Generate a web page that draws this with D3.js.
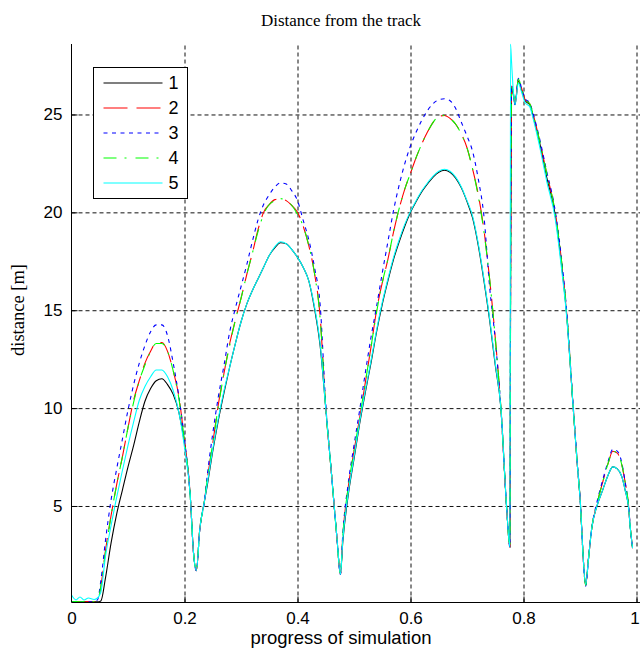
<!DOCTYPE html>
<html>
<head>
<meta charset="utf-8">
<script src="https://cdn.jsdelivr.net/npm/d3@7"></script>
<style>
  body { margin: 0; background: #fff; }
  #wrapper { position: relative; width: 640px; height: 649px; }
  .sans { font-family: "Liberation Sans", Arial, sans-serif; }
  .serif { font-family: "Liberation Serif", "Times New Roman", serif; }
</style>
</head>
<body>
<div id="wrapper"></div>
<script>
// progress of simulation (shared x samples)
const progress = [
  0, 0.008, 0.015, 0.022, 0.03, 0.04, 0.046, 0.052, 0.06, 0.07, 0.08, 0.09, 0.10, 0.11, 0.12, 0.13, 0.14, 0.15, 0.16, 0.17, 0.18, 0.19, 0.20, 0.21, 0.216, 0.221, 0.227, 0.235,
  0.24, 0.25, 0.26, 0.27, 0.28, 0.29, 0.30, 0.31, 0.32, 0.33, 0.34, 0.35, 0.36, 0.37, 0.38, 0.39, 0.40, 0.41, 0.42, 0.43, 0.44, 0.45, 0.46, 0.47, 0.476,
  0.48, 0.49, 0.50, 0.51, 0.52, 0.53, 0.54, 0.55, 0.56, 0.57, 0.58, 0.59, 0.60, 0.61, 0.62, 0.63, 0.64, 0.65, 0.66, 0.67, 0.68, 0.69, 0.70, 0.71, 0.72, 0.73, 0.74, 0.75, 0.76, 0.77, 0.776,
  0.777, 0.779, 0.782, 0.785, 0.791, 0.797, 0.803, 0.811, 0.817, 0.829, 0.841, 0.856, 0.867, 0.876, 0.888, 0.895, 0.901, 0.905, 0.910, 0.915, 0.921, 0.930, 0.940, 0.950, 0.958, 0.966, 0.974, 0.980, 0.986, 0.989, 0.993
];

// distance [m] per run
const dist1 = [
  0.12, 0.12, 0.1, 0.12, 0.1, 0.12, 0.1, 0.15, 1.3, 3.1, 4.6, 5.8, 7.0, 8.1, 9.3, 10.35, 11.0, 11.4, 11.5, 11.2, 10.7, 9.8, 8.2, 5.6, 2.6, 1.7, 3.8, 5.2,
  6.0, 7.8, 9.4, 10.8, 12.1, 13.3, 14.4, 15.3, 16.0, 16.6, 17.2, 17.8, 18.2, 18.45, 18.4, 18.1, 17.7, 17.2, 16.5, 15.1, 13.2, 10.0, 6.7, 3.3, 1.5,
  3.1, 5.6, 7.4, 9.2, 10.8, 12.3, 13.9, 15.3, 16.5, 17.6, 18.5, 19.3, 20.0, 20.55, 21.05, 21.45, 21.8, 22.05, 22.15, 22.05, 21.75, 21.25, 20.55, 19.7, 18.3, 16.5, 14.5, 12.2, 10.0, 5.0, 2.9,
  14.6, 26.4, 26.0, 25.5, 26.7, 26.2, 25.7, 25.5, 24.9, 23.5, 21.8, 19.9, 17.4, 14.9, 10.0, 7.2, 5.0, 2.7, 1.0, 2.3, 3.9, 5.0, 5.8, 6.6, 7.0, 6.9, 6.5, 5.8, 4.9, 3.9, 2.85
];
const dist2 = [
  0.12, 0.1, 0.12, 0.1, 0.12, 0.1, 0.15, 0.9, 2.7, 4.5, 6.1, 7.5, 9.0, 10.4, 11.4, 12.3, 12.9, 13.35, 13.35, 12.9, 11.9, 10.6, 8.3, 5.6, 2.6, 1.7, 3.8, 5.2,
  6.3, 8.2, 10.2, 11.8, 13.3, 14.5, 15.6, 16.8, 17.9, 19.1, 20.0, 20.4, 20.65, 20.7, 20.6, 20.35, 20.0, 19.3, 18.3, 16.9, 14.7, 10.0, 6.7, 3.3, 1.5,
  3.4, 6.0, 7.8, 9.5, 11.3, 13.1, 15.0, 16.4, 17.6, 19.0, 20.2, 21.2, 22.0, 22.8, 23.5, 24.1, 24.6, 24.9, 24.95, 24.8, 24.5, 24.0, 23.3, 22.2, 20.9, 19.1, 16.6, 13.6, 10.0, 5.0, 2.9,
  14.6, 26.45, 26.1, 25.6, 26.8, 26.3, 25.75, 25.55, 25.0, 23.6, 22.0, 20.0, 17.6, 15.0, 10.0, 7.2, 5.0, 2.7, 0.95, 2.3, 3.9, 5.1, 6.2, 7.2, 7.8, 7.7, 7.1, 6.2, 5.0, 3.9, 2.85
];
const dist3 = [
  0.1, 0.12, 0.1, 0.12, 0.1, 0.12, 0.2, 1.2, 3.2, 5.3, 6.9, 8.4, 9.9, 11.2, 12.3, 13.2, 13.9, 14.25, 14.25, 13.7, 12.3, 10.6, 8.4, 5.6, 2.6, 1.7, 3.8, 5.2,
  6.5, 8.7, 10.6, 12.2, 13.9, 15.1, 16.2, 17.3, 18.5, 19.6, 20.4, 20.9, 21.3, 21.5, 21.45, 21.1, 20.6, 19.6, 18.6, 17.2, 15.3, 10.2, 6.7, 3.3, 1.5,
  3.5, 6.2, 8.1, 9.9, 11.8, 13.6, 15.2, 16.9, 18.5, 20.1, 21.4, 22.5, 23.4, 24.1, 24.7, 25.2, 25.55, 25.75, 25.8, 25.7, 25.3, 24.6, 23.9, 23.1, 21.7, 19.8, 16.2, 13.5, 10.0, 5.0, 2.9,
  14.6, 26.5, 26.1, 25.5, 26.85, 26.3, 25.8, 25.6, 25.05, 23.7, 22.1, 20.1, 17.7, 15.1, 10.1, 7.3, 5.0, 2.7, 0.9, 2.3, 3.9, 5.2, 6.3, 7.3, 7.9, 7.8, 7.2, 6.2, 5.0, 3.9, 2.85
];
const dist4 = [
  0.1, 0.12, 0.1, 0.12, 0.1, 0.12, 0.15, 0.9, 2.6, 4.5, 6.1, 7.5, 9.0, 10.3, 11.4, 12.2, 12.9, 13.3, 13.3, 12.9, 11.9, 10.5, 8.3, 5.6, 2.6, 1.7, 3.8, 5.2,
  6.3, 8.2, 10.1, 11.8, 13.2, 14.5, 15.6, 16.8, 17.9, 19.0, 19.9, 20.4, 20.6, 20.7, 20.6, 20.35, 19.9, 19.3, 18.3, 16.9, 14.6, 10.0, 6.7, 3.3, 1.5,
  3.4, 6.0, 7.8, 9.5, 11.3, 13.1, 14.9, 16.4, 17.6, 19.0, 20.2, 21.2, 22.0, 22.8, 23.5, 24.1, 24.6, 24.9, 24.95, 24.8, 24.5, 24.0, 23.3, 22.2, 20.8, 19.0, 16.6, 13.6, 10.0, 5.0, 2.9,
  14.6, 26.45, 26.1, 25.6, 26.8, 26.3, 25.75, 25.55, 25.0, 23.6, 22.0, 20.0, 17.6, 15.0, 10.0, 7.2, 5.0, 2.7, 0.95, 2.3, 3.9, 5.1, 6.2, 7.2, 7.8, 7.7, 7.1, 6.2, 5.0, 3.9, 2.85
];
const dist5 = [
  0.45, 0.2, 0.35, 0.2, 0.3, 0.22, 0.3, 0.6, 2.4, 4.0, 5.45, 6.8, 8.1, 9.3, 10.4, 11.1, 11.6, 11.95, 11.95, 11.6, 10.9, 9.8, 8.0, 5.6, 2.6, 1.7, 3.8, 5.2,
  6.1, 7.9, 9.5, 10.9, 12.1, 13.3, 14.4, 15.3, 16.0, 16.6, 17.2, 17.8, 18.25, 18.5, 18.4, 18.1, 17.7, 17.2, 16.5, 15.2, 13.3, 10.0, 6.7, 3.3, 1.5,
  3.2, 5.7, 7.5, 9.3, 10.9, 12.4, 14.0, 15.4, 16.6, 17.7, 18.6, 19.4, 20.05, 20.6, 21.1, 21.5, 21.85, 22.1, 22.2, 22.1, 21.8, 21.3, 20.6, 19.8, 18.4, 16.6, 14.6, 12.3, 10.0, 5.0, 2.9,
  28.6, 27.6, 26.2, 25.5, 26.6, 26.1, 25.6, 25.4, 24.8, 23.3, 21.6, 19.7, 17.2, 14.8, 10.0, 7.2, 5.0, 2.7, 1.0, 2.3, 3.9, 5.0, 5.8, 6.6, 7.0, 6.9, 6.5, 5.8, 4.9, 3.9, 2.85
];

const seriesNames = ["1", "2", "3", "4", "5"];
const xTicks = [0, 0.2, 0.4, 0.6, 0.8, 1];
const xTickLabels = ["0", "0.2", "0.4", "0.6", "0.8", "1"];
const yTicks = [5, 10, 15, 20, 25];
const yTickLabels = ["5", "10", "15", "20", "25"];

const runs = [dist1, dist2, dist3, dist4, dist5].map((vals, i) => ({
  name: seriesNames[i],
  points: progress.map((x, j) => ({ x: x, y: vals[j] })),
}));

// line styles, matlab-ish: '-', '--', ':', '-.', '-'
const styles = [
  { color: "#000000", dash: null },
  { color: "#ff0000", dash: "24,9" },
  { color: "#0000ff", dash: "4,4.5" },
  { color: "#00ff00", dash: "13,8,2,9" },
  { color: "#00ffff", dash: null },
];

const dimensions = {
  width: 640,
  height: 649,
  left: 71.5,
  right: 636.5,
  top: 44,
  bottom: 602.5,
  labelCenter: 341, // title / xlabel centre as in the source figure
};

const svg = d3
  .select("#wrapper")
  .append("svg")
  .attr("width", dimensions.width)
  .attr("height", dimensions.height);

const xScale = d3
  .scaleLinear()
  .domain([0, 1])
  .range([dimensions.left, dimensions.right]);
const yScale = d3
  .scaleLinear()
  .domain([0.07, 28.6])
  .range([dimensions.bottom, dimensions.top]);

const plotW = dimensions.right - dimensions.left;
const plotH = dimensions.bottom - dimensions.top;

// grid
const xGrid = svg
  .append("g")
  .attr("transform", `translate(0,${dimensions.bottom})`)
  .call(d3.axisBottom(xScale).tickValues(xTicks.slice(1)).tickSize(-plotH).tickFormat(""));
const yGrid = svg
  .append("g")
  .attr("transform", `translate(${dimensions.left},0)`)
  .call(d3.axisLeft(yScale).tickValues(yTicks).tickSize(-plotW - 4).tickFormat(""));
[xGrid, yGrid].forEach((g) => {
  g.select(".domain").remove();
  g.selectAll("line")
    .attr("stroke", "#111")
    .attr("stroke-dasharray", "4,3");
});

// clip to plot area
svg
  .append("clipPath")
  .attr("id", "plotClip")
  .append("rect")
  .attr("x", dimensions.left)
  .attr("y", dimensions.top - 1)
  .attr("width", plotW + 4)
  .attr("height", plotH + 1);

const lineGen = d3
  .line()
  .x((d) => xScale(d.x))
  .y((d) => yScale(d.y))
  .curve(d3.curveMonotoneX);

svg
  .append("g")
  .attr("clip-path", "url(#plotClip)")
  .selectAll("path")
  .data(runs)
  .enter()
  .append("path")
  .attr("d", (d) => lineGen(d.points))
  .attr("fill", "none")
  .attr("stroke", (d, i) => styles[i].color)
  .attr("stroke-width", 1.1)
  .attr("stroke-dasharray", (d, i) => styles[i].dash);

// axes
const xAxis = svg
  .append("g")
  .attr("class", "sans")
  .attr("transform", `translate(0,${dimensions.bottom})`)
  .call(
    d3.axisBottom(xScale)
      .tickValues(xTicks)
      .tickFormat((d, i) => xTickLabels[i])
      .tickSizeInner(-6)
      .tickSizeOuter(0)
      .tickPadding(9)
  );
xAxis.select(".domain").attr("d", `M${dimensions.left},0H${dimensions.width}`);

const yAxis = svg
  .append("g")
  .attr("class", "sans")
  .attr("transform", `translate(${dimensions.left},0)`)
  .call(
    d3.axisLeft(yScale)
      .tickValues(yTicks)
      .tickFormat((d, i) => yTickLabels[i])
      .tickSizeInner(-6)
      .tickSizeOuter(0)
      .tickPadding(9)
  );
yAxis.select(".domain").attr("d", `M0,${dimensions.top}V${dimensions.bottom}`);

[xAxis, yAxis].forEach((g) => {
  g.attr("font-family", null).attr("font-size", null);
  g.selectAll("text").style("font-size", "17px").attr("fill", "#000");
  g.select(".domain").attr("stroke", "#000");
  g.selectAll(".tick line").attr("stroke", "#000");
});
xAxis.selectAll(".tick").filter((d) => d === 0).select("line").remove();
// last label sits on the figure edge, nudge it in
xAxis.selectAll(".tick").filter((d) => d === 1).select("text").attr("dx", -2);

// titles
svg
  .append("text")
  .attr("class", "serif")
  .attr("x", dimensions.labelCenter)
  .attr("y", 26)
  .attr("text-anchor", "middle")
  .style("font-size", "17px")
  .text("Distance from the track");

svg
  .append("text")
  .attr("class", "sans")
  .attr("x", dimensions.labelCenter)
  .attr("y", 644)
  .attr("text-anchor", "middle")
  .style("font-size", "18.5px")
  .text("progress of simulation");

svg
  .append("text")
  .attr("class", "serif")
  .attr("transform", `translate(24,310) rotate(-90)`)
  .attr("text-anchor", "middle")
  .style("font-size", "18.5px")
  .text("distance [m]");

// legend
const legend = svg.append("g").attr("transform", "translate(93.5,67.5)");
legend
  .append("rect")
  .attr("width", 94)
  .attr("height", 131)
  .attr("fill", "#fff")
  .attr("stroke", "#000");

const items = legend
  .selectAll("g.item")
  .data(runs)
  .enter()
  .append("g")
  .attr("class", "item")
  .attr("transform", (d, i) => `translate(0,${15.5 + i * 25})`);
items
  .append("line")
  .attr("x1", 10)
  .attr("x2", 69)
  .attr("stroke", (d, i) => styles[i].color)
  .attr("stroke-width", 1.1)
  .attr("stroke-dasharray", (d, i) => styles[i].dash);
items
  .append("text")
  .attr("class", "sans")
  .attr("x", 75)
  .attr("dy", "0.36em")
  .style("font-size", "18px")
  .text((d) => d.name);
</script>
</body>
</html>
